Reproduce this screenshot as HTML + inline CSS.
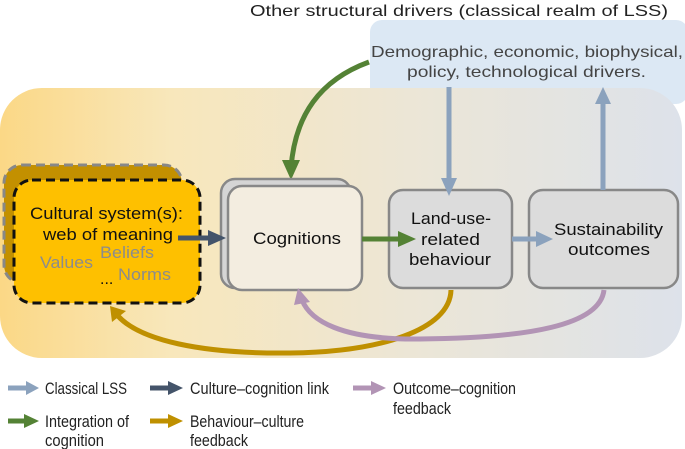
<!DOCTYPE html>
<html><head><meta charset="utf-8"><style>
html,body{margin:0;padding:0;background:#fff}
svg{display:block}
text{font-family:"Liberation Sans",sans-serif}
</style></head><body>
<svg width="685" height="449" viewBox="0 0 685 449" xmlns="http://www.w3.org/2000/svg">
<defs>
<linearGradient id="bg" x1="0" x2="1" y1="0" y2="0">
<stop offset="0" stop-color="#fbd886"/>
<stop offset="0.25" stop-color="#f8e7bb"/>
<stop offset="0.6" stop-color="#ece6d6"/>
<stop offset="1" stop-color="#dde2ea"/>
</linearGradient>
</defs>
<text x="250" y="16" font-size="16" textLength="418" lengthAdjust="spacingAndGlyphs" fill="#222">Other structural drivers (classical realm of LSS)</text>
<rect x="370" y="20" width="318" height="84" rx="12" fill="#dce8f4"/>
<text x="371" y="57" font-size="16" textLength="312" lengthAdjust="spacingAndGlyphs" fill="#444">Demographic, economic, biophysical,</text>
<text x="407" y="77" font-size="16" textLength="239" lengthAdjust="spacingAndGlyphs" fill="#444">policy, technological drivers.</text>
<rect x="0" y="88" width="682" height="270" rx="42" fill="url(#bg)"/>
<path d="M369 62 C320 80 295 115 291 168" fill="none" stroke="#548235" stroke-width="5"/>
<polygon points="282,160 300,160 291,180" fill="#548235"/>
<rect x="4" y="165" width="178" height="118" rx="18" fill="#c39000" stroke="#888" stroke-width="3" stroke-dasharray="9,5"/>
<rect x="14" y="180" width="186" height="123" rx="18" fill="#fec000" stroke="#111" stroke-width="3" stroke-dasharray="9,5"/>
<text x="30" y="219" font-size="17" textLength="153" lengthAdjust="spacingAndGlyphs" fill="#111">Cultural system(s):</text>
<text x="43" y="240" font-size="17" textLength="130" lengthAdjust="spacingAndGlyphs" fill="#111">web of meaning</text>
<text x="40" y="268" font-size="17" textLength="53" lengthAdjust="spacingAndGlyphs" fill="#8c8c8c">Values</text>
<text x="100" y="258" font-size="17" textLength="54" lengthAdjust="spacingAndGlyphs" fill="#8c8c8c">Beliefs</text>
<text x="118" y="280" font-size="17" textLength="53" lengthAdjust="spacingAndGlyphs" fill="#8c8c8c">Norms</text>
<text x="100" y="284" font-size="16" fill="#111">...</text>
<rect x="221" y="179" width="130" height="109" rx="14" fill="#d5d5d5" stroke="#888" stroke-width="2.5"/>
<rect x="228" y="186" width="134" height="104" rx="14" fill="#f3ede0" stroke="#888" stroke-width="2.5"/>
<text x="253" y="244" font-size="17" textLength="88" lengthAdjust="spacingAndGlyphs" fill="#111">Cognitions</text>
<rect x="389" y="190" width="123" height="98" rx="14" fill="#dcdcdc" stroke="#888" stroke-width="2.5"/>
<text x="411" y="224" font-size="17" textLength="80" lengthAdjust="spacingAndGlyphs" fill="#111">Land-use-</text>
<text x="421" y="245" font-size="17" textLength="59" lengthAdjust="spacingAndGlyphs" fill="#111">related</text>
<text x="409" y="265" font-size="17" textLength="82" lengthAdjust="spacingAndGlyphs" fill="#111">behaviour</text>
<rect x="529" y="190" width="149" height="98" rx="14" fill="#dcdcdc" stroke="#888" stroke-width="2.5"/>
<text x="554" y="235" font-size="17" textLength="109" lengthAdjust="spacingAndGlyphs" fill="#111">Sustainability</text>
<text x="568" y="255" font-size="17" textLength="82" lengthAdjust="spacingAndGlyphs" fill="#111">outcomes</text>
<line x1="449" y1="87" x2="449" y2="182" stroke="#8ba2bd" stroke-width="5"/>
<polygon points="441,178 457,178 449,196" fill="#8ba2bd"/>
<line x1="603" y1="190" x2="603" y2="100" stroke="#8ba2bd" stroke-width="5"/>
<polygon points="595,104 611,104 603,87" fill="#8ba2bd"/>
<line x1="512" y1="239" x2="540" y2="239" stroke="#8ba2bd" stroke-width="5"/>
<polygon points="536,231 553,239 536,247" fill="#8ba2bd"/>
<line x1="362" y1="239" x2="400" y2="239" stroke="#548235" stroke-width="5"/>
<polygon points="398,231 416,239 398,247" fill="#548235"/>
<line x1="178" y1="238" x2="212" y2="238" stroke="#44546a" stroke-width="5"/>
<polygon points="208,230 226,238 208,246" fill="#44546a"/>
<path d="M451 290 C450 330 380 352 290 353 C200 354 140 340 118 316" fill="none" stroke="#bf9000" stroke-width="5"/>
<polygon points="110,306 126,311 112,322" fill="#bf9000"/>
<path d="M604 290 C600 325 530 338 420 339 C340 340 310 320 302 300" fill="none" stroke="#b294b5" stroke-width="5"/>
<polygon points="298,288 310,302 294,305" fill="#b294b5"/>
<g font-size="17" fill="#222">
<line x1="8" y1="388" x2="28" y2="388" stroke="#8ba2bd" stroke-width="5"/><polygon points="26,381 39,388 26,395" fill="#8ba2bd"/>
<text x="45" y="394" textLength="82" lengthAdjust="spacingAndGlyphs">Classical LSS</text>
<line x1="150" y1="388" x2="170" y2="388" stroke="#44546a" stroke-width="5"/><polygon points="168,381 183,388 168,395" fill="#44546a"/>
<text x="190" y="394" textLength="139" lengthAdjust="spacingAndGlyphs">Culture–cognition link</text>
<line x1="353" y1="388" x2="373" y2="388" stroke="#b294b5" stroke-width="5"/><polygon points="371,381 386,388 371,395" fill="#b294b5"/>
<text x="393" y="394" textLength="123" lengthAdjust="spacingAndGlyphs">Outcome–cognition</text>
<text x="393" y="414" textLength="58" lengthAdjust="spacingAndGlyphs">feedback</text>
<line x1="8" y1="421" x2="26" y2="421" stroke="#548235" stroke-width="5"/><polygon points="24,414 39,421 24,428" fill="#548235"/>
<text x="45" y="427" textLength="84" lengthAdjust="spacingAndGlyphs">Integration of</text>
<text x="45" y="446" textLength="59" lengthAdjust="spacingAndGlyphs">cognition</text>
<line x1="150" y1="421" x2="170" y2="421" stroke="#bf9000" stroke-width="5"/><polygon points="168,414 183,421 168,428" fill="#bf9000"/>
<text x="190" y="427" textLength="114" lengthAdjust="spacingAndGlyphs">Behaviour–culture</text>
<text x="190" y="446" textLength="58" lengthAdjust="spacingAndGlyphs">feedback</text>
</g>
</svg>
</body></html>
